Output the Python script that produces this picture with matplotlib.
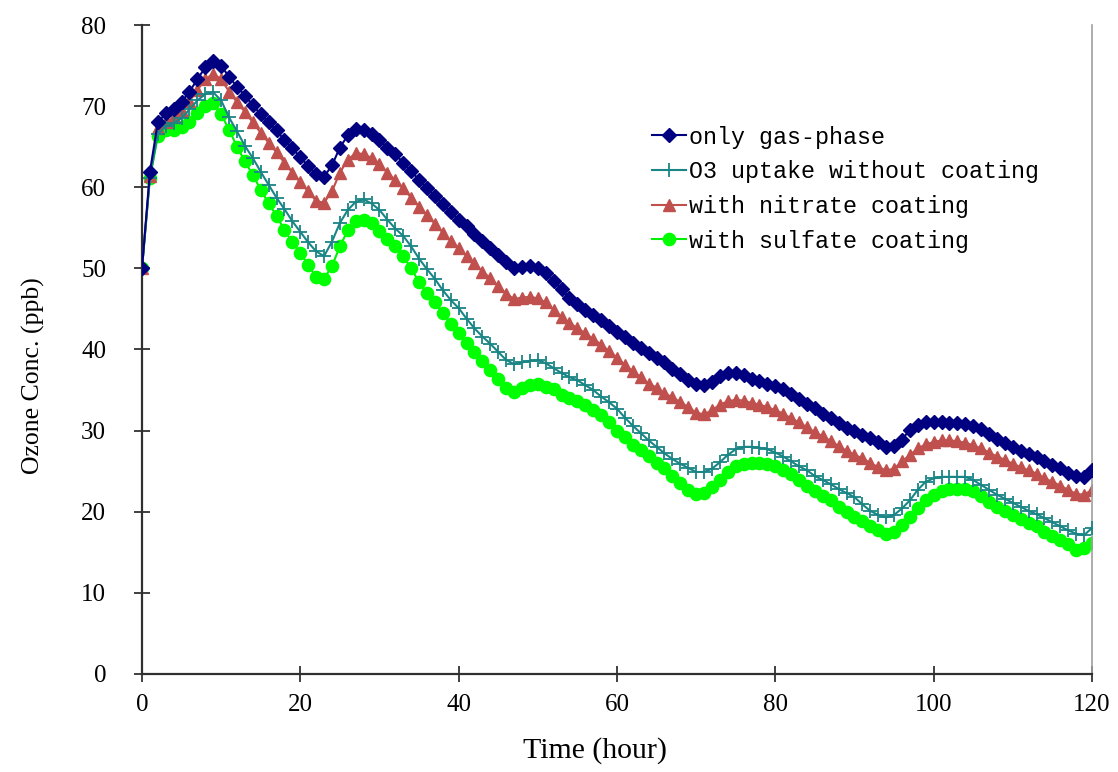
import numpy as np
import matplotlib
matplotlib.use("Agg")
import matplotlib.pyplot as plt

# hourly ozone concentrations (ppb), 0..120 h
hours = list(range(121))

gas_phase = [
    50.0, 61.9, 68.0, 69.1, 69.6, 70.5, 71.8, 73.3, 74.8, 75.6,
    75.0, 73.6, 72.4, 71.3, 70.1, 69.0, 68.0, 67.0, 65.8, 64.8,
    63.7, 62.6, 61.6, 61.3, 62.7, 64.9, 66.4, 67.2, 67.0, 66.6,
    65.8, 64.9, 64.1, 63.0, 62.0, 60.9, 59.9, 58.9, 57.9, 56.9,
    56.0, 55.2, 54.2, 53.4, 52.5, 51.7, 50.8, 50.1, 50.2, 50.3,
    50.0, 49.4, 48.5, 47.4, 46.4, 45.6, 44.9, 44.3, 43.6, 42.9,
    42.2, 41.6, 40.8, 40.2, 39.6, 39.0, 38.4, 37.6, 37.0, 36.2,
    35.7, 35.6, 36.0, 36.7, 37.1, 37.1, 36.9, 36.4, 36.1, 35.8,
    35.5, 35.1, 34.5, 33.9, 33.3, 32.8, 32.1, 31.5, 30.9, 30.3,
    29.9, 29.5, 29.1, 28.6, 28.0, 28.1, 28.9, 30.1, 30.7, 31.0,
    31.1, 31.0, 30.9, 30.9, 30.8, 30.6, 30.2, 29.6, 29.0, 28.5,
    28.0, 27.5, 27.1, 26.7, 26.3, 25.8, 25.4, 24.8, 24.4, 24.3,
    25.2,
]

no_coating = [
    50.0, 61.2, 66.6, 67.5, 67.9, 68.5, 69.6, 70.7, 71.5, 71.7,
    70.7, 68.6, 66.9, 65.1, 63.6, 61.9, 60.3, 58.7, 57.3, 55.8,
    54.5, 53.2, 52.1, 51.5, 53.3, 55.6, 57.2, 58.2, 58.5, 58.0,
    57.2, 56.0, 54.9, 54.0, 52.7, 51.2, 49.9, 48.7, 47.3, 46.1,
    45.1, 43.8, 42.6, 41.6, 40.7, 39.7, 38.7, 38.2, 38.4, 38.6,
    38.7, 38.3, 37.7, 37.1, 36.6, 36.2, 35.6, 35.0, 34.2, 33.5,
    32.7, 31.6, 30.6, 29.7, 28.8, 28.0, 27.2, 26.5, 25.9, 25.4,
    24.9, 24.9, 25.3, 26.1, 27.0, 27.7, 28.0, 28.0, 27.9, 27.7,
    27.3, 26.8, 26.2, 25.6, 25.1, 24.4, 23.9, 23.4, 22.8, 22.3,
    21.8, 20.9, 20.1, 19.6, 19.3, 19.6, 20.4, 21.4, 22.7, 23.7,
    24.1, 24.3, 24.3, 24.3, 24.3, 23.9, 23.3, 22.7, 22.1, 21.6,
    21.1, 20.6, 20.1, 19.7, 19.2, 18.7, 18.2, 17.7, 17.3, 17.1,
    18.0,
]

nitrate = [
    50.0, 61.4, 67.3, 68.0, 68.6, 69.4, 70.6, 72.0, 73.3, 74.0,
    73.3, 71.8, 70.5, 69.3, 68.0, 66.7, 65.5, 64.3, 63.0, 61.8,
    60.6, 59.5, 58.3, 58.1, 59.5, 61.8, 63.4, 64.2, 64.1, 63.6,
    62.9, 61.8, 60.9, 59.9, 58.7, 57.6, 56.6, 55.5, 54.4, 53.4,
    52.5, 51.5, 50.6, 49.6, 48.8, 47.8, 46.9, 46.2, 46.4, 46.5,
    46.3, 45.8, 44.9, 44.0, 43.3, 42.6, 42.0, 41.3, 40.6, 39.8,
    39.0, 38.1, 37.3, 36.6, 35.8, 35.3, 34.6, 34.1, 33.5, 32.9,
    32.2, 32.0, 32.5, 33.2, 33.6, 33.8, 33.7, 33.4, 33.2, 32.9,
    32.5, 32.1, 31.5, 31.0, 30.4, 29.8, 29.3, 28.7, 28.1, 27.5,
    27.0, 26.6, 26.0, 25.5, 25.1, 25.3, 26.2, 27.0, 27.8, 28.3,
    28.6, 28.8, 28.8, 28.7, 28.5, 28.2, 27.8, 27.3, 26.8, 26.4,
    25.9, 25.5, 25.1, 24.7, 24.1, 23.7, 23.2, 22.7, 22.2, 22.1,
    22.7,
]

sulfate = [
    50.0, 61.1, 66.3, 67.0, 67.1, 67.4, 68.1, 69.2, 70.0, 70.4,
    69.0, 67.1, 65.0, 63.2, 61.5, 59.7, 58.0, 56.5, 54.7, 53.2,
    51.9, 50.4, 48.9, 48.7, 50.3, 52.7, 54.7, 55.8, 56.0, 55.6,
    54.6, 53.6, 52.7, 51.5, 50.0, 48.3, 47.0, 45.8, 44.5, 43.2,
    42.0, 40.8, 39.7, 38.6, 37.5, 36.3, 35.2, 34.8, 35.2, 35.6,
    35.7, 35.4, 35.1, 34.4, 34.0, 33.6, 33.2, 32.6, 31.9, 31.0,
    29.9, 29.2, 28.2, 27.6, 26.9, 26.0, 25.4, 24.4, 23.6, 22.7,
    22.2, 22.3, 23.1, 23.9, 24.9, 25.6, 25.9, 26.0, 26.0, 25.9,
    25.6, 25.1, 24.7, 23.9, 23.2, 22.6, 21.9, 21.4, 20.6, 20.0,
    19.4, 18.8, 18.2, 17.7, 17.3, 17.5, 18.4, 19.4, 20.4, 21.4,
    22.1, 22.5, 22.8, 22.8, 22.8, 22.5, 21.9, 21.2, 20.6, 20.1,
    19.6, 19.1, 18.6, 18.2, 17.5, 17.0, 16.5, 16.0, 15.3, 15.5,
    16.2,
]

labels = ["only gas-phase", "O3 uptake without coating",
          "with nitrate coating", "with sulfate coating"]

fig = plt.figure(figsize=(11.18, 7.72), dpi=100)
ax = fig.add_axes([0.127, 0.127, 0.8497, 0.8406])

ax.plot(hours, gas_phase, color="#000080", lw=1.5, marker="D", ms=6.8,
        mec="#000080", mfc="#000080", label=labels[0], zorder=4)
ax.plot(hours, no_coating, color="#1A8585", lw=1.5, marker="+", ms=9.5,
        mew=1.3, label=labels[1], zorder=3)
ax.plot(hours, nitrate, color="#C0504D", lw=1.5, marker="^", ms=9,
        mec="#C0504D", mfc="#C0504D", label=labels[2], zorder=2)
ax.plot(hours, sulfate, color="#00EE00", lw=1.5, marker="o", ms=8.8,
        mec="#00FF00", mfc="#00FF00", label=labels[3], zorder=1)

ax.set_xlim(0, 120)
ax.set_ylim(0, 80)
ax.set_xticks(np.arange(0, 121, 20))
ax.set_yticks(np.arange(0, 81, 10))

serif = "Liberation Serif"
for lab in ax.get_xticklabels() + ax.get_yticklabels():
    lab.set_family(serif)
    lab.set_fontsize(18)
ax.tick_params(direction="inout", length=11.5, width=1.2, color="#202020")
ax.tick_params(axis="x", pad=9)
ax.tick_params(axis="y", pad=20)
ax.set_xlabel("Time (hour)", family=serif, fontsize=21.5)
ax.set_ylabel("Ozone Conc. (ppb)", family=serif, fontsize=18.5)
ax.xaxis.set_label_coords(0.477, -0.097)
ax.yaxis.set_label_coords(-0.102, 0.46)

for side in ("left", "bottom"):
    ax.spines[side].set_color("#303030")
    ax.spines[side].set_linewidth(1.6)
ax.spines["right"].set_color("#A0A0A0")
ax.spines["right"].set_linewidth(1.2)
ax.spines["top"].set_visible(False)

leg = ax.legend(loc="upper left", bbox_to_anchor=(0.537, 0.845),
                frameon=False, handlelength=1.45, handletextpad=0.15,
                labelspacing=0.5, borderpad=0, borderaxespad=0,
                prop={"family": "Liberation Mono", "size": 16.8})

fig.savefig("out.png", dpi=100)
